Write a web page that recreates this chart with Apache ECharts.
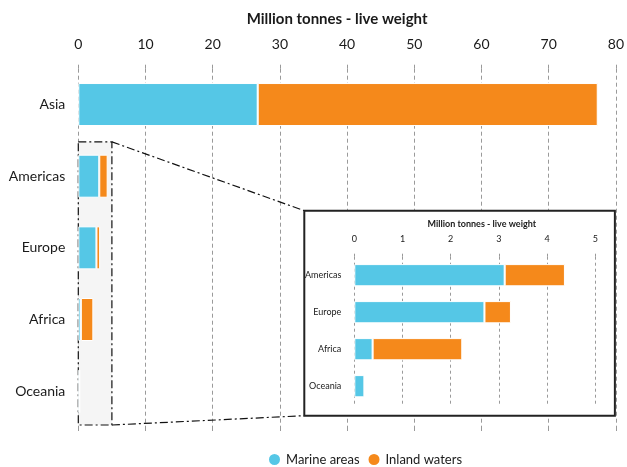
<!DOCTYPE html>
<html>
<head>
<meta charset="utf-8">
<script src="https://cdn.jsdelivr.net/npm/echarts@6/dist/echarts.min.js"></script>
<style>
html,body{margin:0;padding:0;background:#fff;}
#chart{width:627px;height:467px;}
</style>
</head>
<body>
<div id="chart"></div>
<script>
// ---- data ----
var categories = ['Asia', 'Americas', 'Europe', 'Africa', 'Oceania'];
var marineAreas = [26.7, 3.12, 2.70, 0.38, 0.21];
var inlandWaters = [50.6, 1.25, 0.55, 1.86, 0];
var mainTicks = [0, 10, 20, 30, 40, 50, 60, 70, 80];
var insetTicks = [0, 1, 2, 3, 4, 5];
var axisTitle = 'Million tonnes - live weight';
var seriesNames = ['Marine areas', 'Inland waters'];

var insetCategories = categories.slice(1);
var insetMarine = marineAreas.slice(1);
var insetInland = inlandWaters.slice(1);

var FONT = 'Lato, "DejaVu Sans", sans-serif';
var CYAN = '#55c7e6';
var ORANGE = '#f5891b';
var GRIDC = '#9a9a9a';
var TXT = '#1a1a1a';

var chart = echarts.init(document.getElementById('chart'), null, {renderer: 'canvas'});

function barSeries(name, data, color, xi, yi, z) {
  return {
    name: name, type: 'bar', stack: 'tot' + xi,
    xAxisIndex: xi, yAxisIndex: yi, z: z,
    data: data, barCategoryGap: '40%',
    itemStyle: {color: color, borderColor: '#fff', borderWidth: 1},
    emphasis: {disabled: true}
  };
}

var option = {
  backgroundColor: '#fff',
  animation: false,
  textStyle: {fontFamily: FONT},
  legend: {
    data: seriesNames, icon: 'circle', itemWidth: 13, itemHeight: 13, itemGap: 7,
    left: 262, top: 447,
    textStyle: {fontSize: 13, color: TXT, fontFamily: FONT}
  },
  grid: [
    {left: 78.3, right: 11, top: 68.7, bottom: 40},
    {left: 354.3, right: 31.7, top: 256.7, bottom: 62.3}
  ],
  xAxis: [
    {
      gridIndex: 0, type: 'value', position: 'top', min: mainTicks[0], max: mainTicks[mainTicks.length - 1],
      interval: mainTicks[1] - mainTicks[0], z: 0,
      name: axisTitle, nameLocation: 'middle', nameGap: 42,
      nameTextStyle: {fontSize: 15, fontWeight: 'bold', color: TXT, fontFamily: FONT, padding: [0, 20, 0, 0]},
      axisLine: {show: false},
      axisTick: {show: true, length: 7, lineStyle: {color: GRIDC, type: [4, 3]}},
      axisLabel: {fontSize: 14, color: TXT, margin: 17, fontFamily: FONT},
      splitLine: {show: true, lineStyle: {color: GRIDC, type: [4, 3]}}
    },
    {
      gridIndex: 0, type: 'value', position: 'bottom', min: mainTicks[0], max: mainTicks[mainTicks.length - 1],
      interval: mainTicks[1] - mainTicks[0], z: 0,
      axisLine: {show: false},
      axisTick: {show: true, length: 6, lineStyle: {color: GRIDC, type: [4, 3]}},
      axisLabel: {show: false},
      splitLine: {show: false}
    },
    {
      gridIndex: 1, type: 'value', position: 'top', min: insetTicks[0], max: insetTicks[insetTicks.length - 1],
      interval: insetTicks[1] - insetTicks[0], z: 2,
      name: axisTitle, nameLocation: 'middle', nameGap: 28,
      nameTextStyle: {fontSize: 9, fontWeight: 'bold', color: TXT, fontFamily: FONT, padding: [0, 0, 0, 14]},
      axisLine: {show: false},
      axisTick: {show: true, length: 4, lineStyle: {color: GRIDC, type: [3, 3]}},
      axisLabel: {fontSize: 9, color: TXT, margin: 13, fontFamily: FONT},
      splitLine: {show: true, lineStyle: {color: GRIDC, type: [3, 3]}}
    }
  ],
  yAxis: [
    {
      gridIndex: 0, type: 'category', data: categories, inverse: true, z: 0,
      axisLine: {show: false}, axisTick: {show: false},
      axisLabel: {fontSize: 14, color: TXT, margin: 13, fontFamily: FONT}
    },
    {
      gridIndex: 1, type: 'category', data: insetCategories, inverse: true, z: 2,
      axisLine: {show: false}, axisTick: {show: false},
      axisLabel: {fontSize: 9, color: TXT, margin: 13, fontFamily: FONT}
    }
  ],
  series: [
    barSeries(seriesNames[0], marineAreas, CYAN, 0, 0, 2),
    barSeries(seriesNames[1], inlandWaters, ORANGE, 0, 0, 2),
    barSeries(seriesNames[0], insetMarine, CYAN, 2, 1, 3),
    barSeries(seriesNames[1], insetInland, ORANGE, 2, 1, 3)
  ]
};
chart.setOption(option);

// ---- zoom box and connectors, positioned from the axes ----
var x0 = chart.convertToPixel({xAxisIndex: 0}, 0);
var x5 = chart.convertToPixel({xAxisIndex: 0}, insetTicks[insetTicks.length - 1]);
var x80 = chart.convertToPixel({xAxisIndex: 0}, mainTicks[mainTicks.length - 1]);
var yFirst = chart.convertToPixel({yAxisIndex: 0}, insetCategories[0]);
var yLast = chart.convertToPixel({yAxisIndex: 0}, insetCategories[insetCategories.length - 1]);
var band = (yLast - yFirst) / (insetCategories.length - 1);
var zTop = yFirst - band / 2 + 1.5;
var zBot = yLast + band / 2 - 2;

var ix0 = chart.convertToPixel({xAxisIndex: 2}, 0);
var iyFirst = chart.convertToPixel({yAxisIndex: 1}, insetCategories[0]);
var iyLast = chart.convertToPixel({yAxisIndex: 1}, insetCategories[insetCategories.length - 1]);
var iband = (iyLast - iyFirst) / (insetCategories.length - 1);
var bLeft = ix0 - 50;
var bRight = x80 - 1;
var bTop = iyFirst - iband / 2 - 46;
var bBot = iyLast + iband / 2 + 11;

var dash = [8, 3, 2, 3];
chart.setOption({
  graphic: [
    {type: 'rect', z: 1, shape: {x: x0, y: zTop, width: x5 - x0, height: zBot - zTop},
     style: {fill: '#f5f5f5', stroke: '#111', lineWidth: 1.2, lineDash: dash}},
    {type: 'line', z: 1, shape: {x1: x5, y1: zTop, x2: bLeft, y2: bTop},
     style: {stroke: '#111', lineWidth: 1.2, lineDash: dash}},
    {type: 'line', z: 1, shape: {x1: x5, y1: zBot, x2: bLeft, y2: bBot},
     style: {stroke: '#111', lineWidth: 1.2, lineDash: dash}},
    {type: 'rect', z: 1, shape: {x: bLeft, y: bTop, width: bRight - bLeft, height: bBot - bTop},
     style: {fill: '#fff', stroke: '#222', lineWidth: 2}}
  ]
});
</script>
</body>
</html>
